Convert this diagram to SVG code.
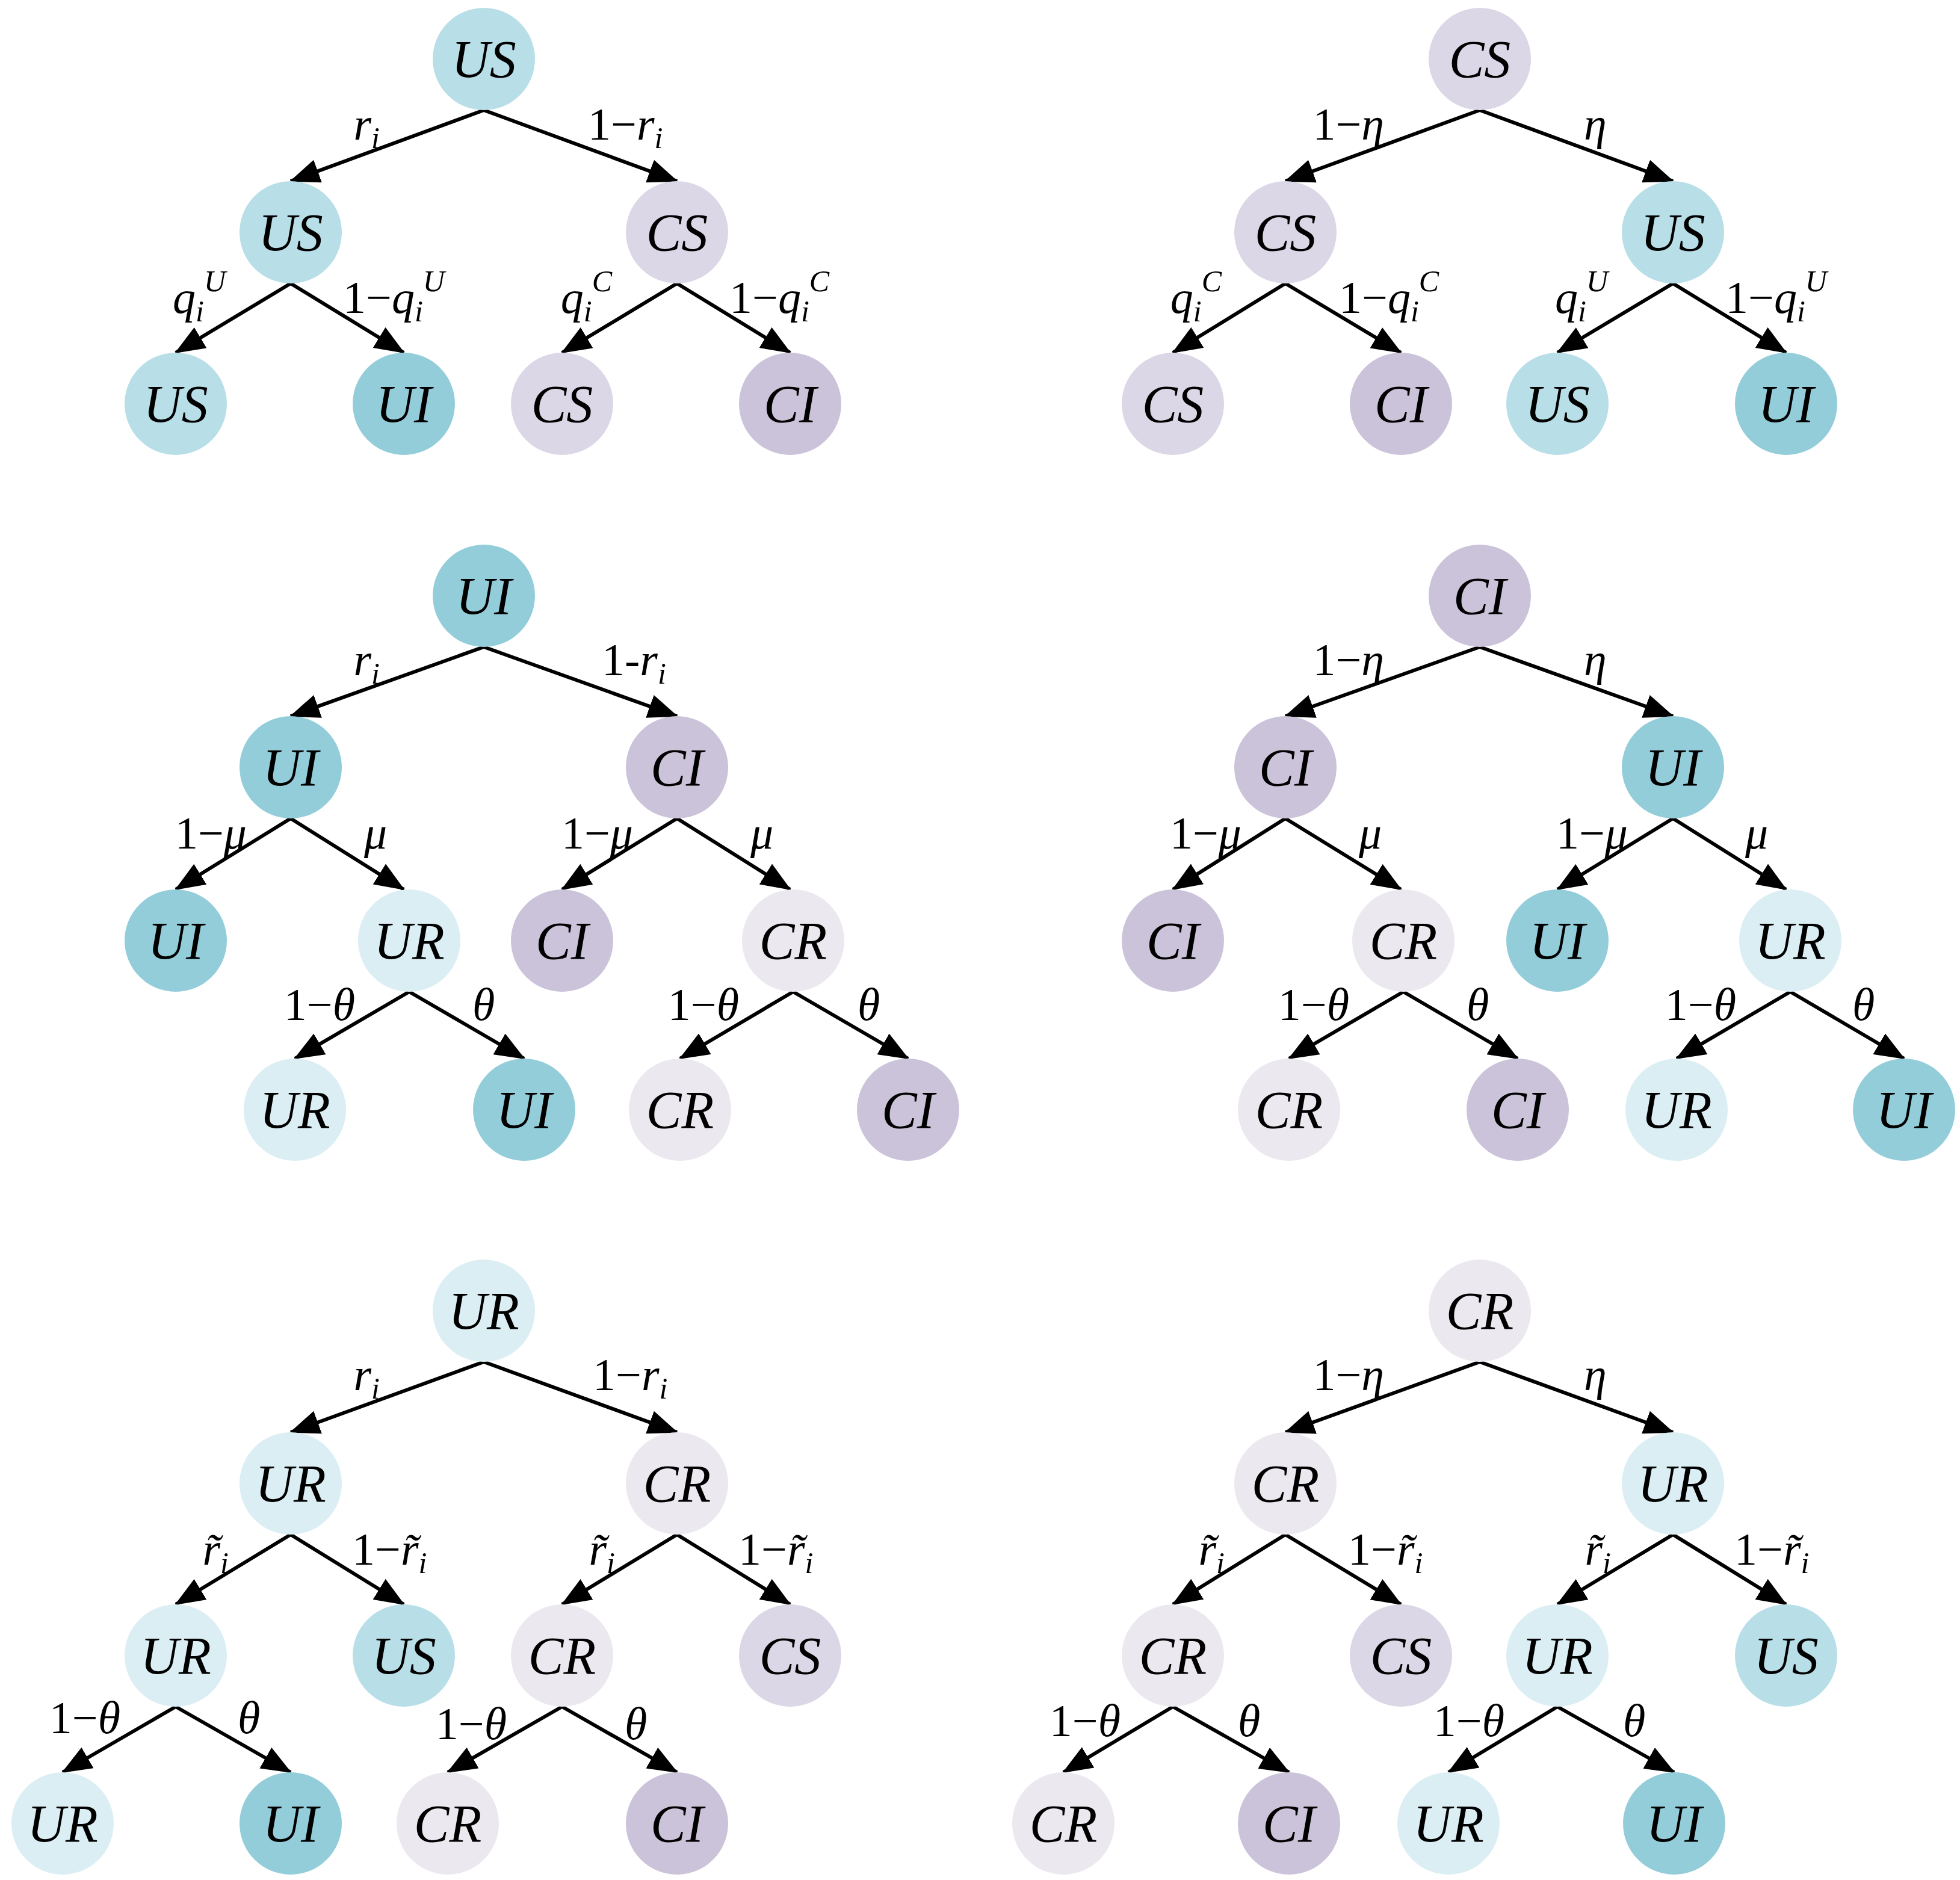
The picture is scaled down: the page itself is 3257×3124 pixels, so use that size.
<svg xmlns="http://www.w3.org/2000/svg" width="3257" height="3124" viewBox="0 0 3257 3124">
<style>
.n{stroke:none}
.US{fill:#b8dee8}.UI{fill:#94cdda}.UR{fill:#dbeef3}.CS{fill:#dcd7e6}.CI{fill:#cbc3da}.CR{fill:#ebe8f0}
.nt{font-family:"Liberation Serif",serif;font-style:italic;font-size:88px;text-anchor:middle;fill:#000}
.e{stroke:#000;stroke-width:6;fill:none;marker-end:url(#ah)}
.l{font-family:"Liberation Serif",serif;font-size:76px;fill:#000}
.L{text-anchor:end}.R{text-anchor:start}
.it{font-style:italic}
.sb{font-style:italic;font-size:50px}
</style>
<defs>
<marker id="ah" markerUnits="userSpaceOnUse" markerWidth="50" markerHeight="40" refX="48" refY="20" orient="auto"><path d="M0,0 L50,20 L0,40 Z" fill="#000"/></marker>
</defs>
<g id="connectors">
<!-- A -->
<line class="e" x1="804" y1="183" x2="483" y2="301"/><line class="e" x1="804" y1="183" x2="1125" y2="301"/>
<line class="e" x1="483" y1="471" x2="292" y2="586"/><line class="e" x1="483" y1="471" x2="671" y2="586"/>
<line class="e" x1="1125" y1="471" x2="934" y2="586"/><line class="e" x1="1125" y1="471" x2="1313" y2="586"/>
<!-- B -->
<line class="e" x1="2459" y1="183" x2="2136" y2="301"/><line class="e" x1="2459" y1="183" x2="2780" y2="301"/>
<line class="e" x1="2136" y1="471" x2="1949" y2="586"/><line class="e" x1="2136" y1="471" x2="2328" y2="586"/>
<line class="e" x1="2780" y1="471" x2="2588" y2="586"/><line class="e" x1="2780" y1="471" x2="2968" y2="586"/>
<!-- C -->
<line class="e" x1="804" y1="1075" x2="483" y2="1190"/><line class="e" x1="804" y1="1075" x2="1125" y2="1190"/>
<line class="e" x1="483" y1="1360" x2="292" y2="1478"/><line class="e" x1="483" y1="1360" x2="671" y2="1478"/>
<line class="e" x1="1125" y1="1360" x2="934" y2="1478"/><line class="e" x1="1125" y1="1360" x2="1313" y2="1478"/>
<line class="e" x1="680" y1="1648" x2="490" y2="1759"/><line class="e" x1="680" y1="1648" x2="871" y2="1759"/>
<line class="e" x1="1318" y1="1648" x2="1130" y2="1759"/><line class="e" x1="1318" y1="1648" x2="1509" y2="1759"/>
<!-- D -->
<line class="e" x1="2459" y1="1075" x2="2136" y2="1190"/><line class="e" x1="2459" y1="1075" x2="2780" y2="1190"/>
<line class="e" x1="2136" y1="1360" x2="1949" y2="1478"/><line class="e" x1="2136" y1="1360" x2="2328" y2="1478"/>
<line class="e" x1="2780" y1="1360" x2="2588" y2="1478"/><line class="e" x1="2780" y1="1360" x2="2968" y2="1478"/>
<line class="e" x1="2332" y1="1648" x2="2142" y2="1759"/><line class="e" x1="2332" y1="1648" x2="2522" y2="1759"/>
<line class="e" x1="2975" y1="1648" x2="2786" y2="1759"/><line class="e" x1="2975" y1="1648" x2="3164" y2="1759"/>
<!-- E -->
<line class="e" x1="804" y1="2263" x2="483" y2="2380"/><line class="e" x1="804" y1="2263" x2="1125" y2="2380"/>
<line class="e" x1="483" y1="2550" x2="292" y2="2666"/><line class="e" x1="483" y1="2550" x2="671" y2="2666"/>
<line class="e" x1="1125" y1="2550" x2="934" y2="2666"/><line class="e" x1="1125" y1="2550" x2="1313" y2="2666"/>
<line class="e" x1="292" y1="2836" x2="104" y2="2945"/><line class="e" x1="292" y1="2836" x2="483" y2="2945"/>
<line class="e" x1="934" y1="2836" x2="744" y2="2945"/><line class="e" x1="934" y1="2836" x2="1125" y2="2945"/>
<!-- F -->
<line class="e" x1="2459" y1="2263" x2="2136" y2="2380"/><line class="e" x1="2459" y1="2263" x2="2780" y2="2380"/>
<line class="e" x1="2136" y1="2550" x2="1949" y2="2666"/><line class="e" x1="2136" y1="2550" x2="2328" y2="2666"/>
<line class="e" x1="2780" y1="2550" x2="2588" y2="2666"/><line class="e" x1="2780" y1="2550" x2="2968" y2="2666"/>
<line class="e" x1="1949" y1="2836" x2="1767" y2="2945"/><line class="e" x1="1949" y1="2836" x2="2142" y2="2945"/>
<line class="e" x1="2588" y1="2836" x2="2407" y2="2945"/><line class="e" x1="2588" y1="2836" x2="2782" y2="2945"/>
</g>
<g id="labels">
<!-- A -->
<text class="l L" x="631" y="232"><tspan class="it">r</tspan><tspan class="sb" dy="14">i</tspan></text>
<text class="l R" x="977" y="232">1−<tspan class="it">r</tspan><tspan class="sb" dy="14">i</tspan></text>
<text class="l L" x="375" y="520"><tspan class="it">q</tspan><tspan class="sb" dy="14">i</tspan><tspan class="sb" dy="-50">U</tspan></text>
<text class="l R" x="570" y="520">1−<tspan class="it">q</tspan><tspan class="sb" dy="14">i</tspan><tspan class="sb" dy="-50">U</tspan></text>
<text class="l L" x="1017" y="520"><tspan class="it">q</tspan><tspan class="sb" dy="14">i</tspan><tspan class="sb" dy="-50">C</tspan></text>
<text class="l R" x="1212" y="520">1−<tspan class="it">q</tspan><tspan class="sb" dy="14">i</tspan><tspan class="sb" dy="-50">C</tspan></text>
<!-- B -->
<text class="l L" x="2300" y="232">1−<tspan class="it">η</tspan></text>
<text class="l R" x="2632" y="232"><tspan class="it">η</tspan></text>
<text class="l L" x="2030" y="520"><tspan class="it">q</tspan><tspan class="sb" dy="14">i</tspan><tspan class="sb" dy="-50">C</tspan></text>
<text class="l R" x="2225" y="520">1−<tspan class="it">q</tspan><tspan class="sb" dy="14">i</tspan><tspan class="sb" dy="-50">C</tspan></text>
<text class="l L" x="2672" y="520"><tspan class="it">q</tspan><tspan class="sb" dy="14">i</tspan><tspan class="sb" dy="-50">U</tspan></text>
<text class="l R" x="2867" y="520">1−<tspan class="it">q</tspan><tspan class="sb" dy="14">i</tspan><tspan class="sb" dy="-50">U</tspan></text>
<!-- C -->
<text class="l L" x="631" y="1122"><tspan class="it">r</tspan><tspan class="sb" dy="14">i</tspan></text>
<text class="l R" x="1000" y="1122">1-<tspan class="it">r</tspan><tspan class="sb" dy="14">i</tspan></text>
<text class="l L" x="410" y="1410">1−<tspan class="it">μ</tspan></text>
<text class="l R" x="605" y="1410"><tspan class="it">μ</tspan></text>
<text class="l L" x="1052" y="1410">1−<tspan class="it">μ</tspan></text>
<text class="l R" x="1247" y="1410"><tspan class="it">μ</tspan></text>
<text class="l L" x="590" y="1695">1−<tspan class="it">θ</tspan></text>
<text class="l R" x="785" y="1695"><tspan class="it">θ</tspan></text>
<text class="l L" x="1228" y="1695">1−<tspan class="it">θ</tspan></text>
<text class="l R" x="1425" y="1695"><tspan class="it">θ</tspan></text>
<!-- D -->
<text class="l L" x="2300" y="1122">1−<tspan class="it">η</tspan></text>
<text class="l R" x="2632" y="1122"><tspan class="it">η</tspan></text>
<text class="l L" x="2063" y="1410">1−<tspan class="it">μ</tspan></text>
<text class="l R" x="2258" y="1410"><tspan class="it">μ</tspan></text>
<text class="l L" x="2705" y="1410">1−<tspan class="it">μ</tspan></text>
<text class="l R" x="2900" y="1410"><tspan class="it">μ</tspan></text>
<text class="l L" x="2242" y="1695">1−<tspan class="it">θ</tspan></text>
<text class="l R" x="2437" y="1695"><tspan class="it">θ</tspan></text>
<text class="l L" x="2885" y="1695">1−<tspan class="it">θ</tspan></text>
<text class="l R" x="3078" y="1695"><tspan class="it">θ</tspan></text>
<!-- E -->
<text class="l L" x="631" y="2310"><tspan class="it">r</tspan><tspan class="sb" dy="14">i</tspan></text>
<text class="l R" x="985" y="2310">1−<tspan class="it">r</tspan><tspan class="sb" dy="14">i</tspan></text>
<text class="l L" x="380" y="2600"><tspan class="it">r̃</tspan><tspan class="sb" dy="14">i</tspan></text>
<text class="l R" x="585" y="2600">1−<tspan class="it">r̃</tspan><tspan class="sb" dy="14">i</tspan></text>
<text class="l L" x="1022" y="2600"><tspan class="it">r̃</tspan><tspan class="sb" dy="14">i</tspan></text>
<text class="l R" x="1227" y="2600">1−<tspan class="it">r̃</tspan><tspan class="sb" dy="14">i</tspan></text>
<text class="l L" x="200" y="2880">1−<tspan class="it">θ</tspan></text>
<text class="l R" x="395" y="2880"><tspan class="it">θ</tspan></text>
<text class="l L" x="842" y="2890">1−<tspan class="it">θ</tspan></text>
<text class="l R" x="1038" y="2890"><tspan class="it">θ</tspan></text>
<!-- F -->
<text class="l L" x="2300" y="2310">1−<tspan class="it">η</tspan></text>
<text class="l R" x="2632" y="2310"><tspan class="it">η</tspan></text>
<text class="l L" x="2035" y="2600"><tspan class="it">r̃</tspan><tspan class="sb" dy="14">i</tspan></text>
<text class="l R" x="2240" y="2600">1−<tspan class="it">r̃</tspan><tspan class="sb" dy="14">i</tspan></text>
<text class="l L" x="2677" y="2600"><tspan class="it">r̃</tspan><tspan class="sb" dy="14">i</tspan></text>
<text class="l R" x="2882" y="2600">1−<tspan class="it">r̃</tspan><tspan class="sb" dy="14">i</tspan></text>
<text class="l L" x="1862" y="2885">1−<tspan class="it">θ</tspan></text>
<text class="l R" x="2057" y="2885"><tspan class="it">θ</tspan></text>
<text class="l L" x="2500" y="2885">1−<tspan class="it">θ</tspan></text>
<text class="l R" x="2697" y="2885"><tspan class="it">θ</tspan></text>
</g>
<!-- Nodes A -->
<g id="a0"><circle class="n US" cx="804" cy="98" r="85"/><text class="nt" x="804" y="128">US</text></g>
<g id="a1"><circle class="n US" cx="483" cy="386" r="85"/><text class="nt" x="483" y="416">US</text></g>
<g id="a2"><circle class="n CS" cx="1125" cy="386" r="85"/><text class="nt" x="1125" y="416">CS</text></g>
<g id="a3"><circle class="n US" cx="292" cy="671" r="85"/><text class="nt" x="292" y="701">US</text></g>
<g id="a4"><circle class="n UI" cx="671" cy="671" r="85"/><text class="nt" x="671" y="701">UI</text></g>
<g id="a5"><circle class="n CS" cx="934" cy="671" r="85"/><text class="nt" x="934" y="701">CS</text></g>
<g id="a6"><circle class="n CI" cx="1313" cy="671" r="85"/><text class="nt" x="1313" y="701">CI</text></g>
<!-- B -->
<g id="b0"><circle class="n CS" cx="2459" cy="98" r="85"/><text class="nt" x="2459" y="128">CS</text></g>
<g id="b1"><circle class="n CS" cx="2136" cy="386" r="85"/><text class="nt" x="2136" y="416">CS</text></g>
<g id="b2"><circle class="n US" cx="2780" cy="386" r="85"/><text class="nt" x="2780" y="416">US</text></g>
<g id="b3"><circle class="n CS" cx="1949" cy="671" r="85"/><text class="nt" x="1949" y="701">CS</text></g>
<g id="b4"><circle class="n CI" cx="2328" cy="671" r="85"/><text class="nt" x="2328" y="701">CI</text></g>
<g id="b5"><circle class="n US" cx="2588" cy="671" r="85"/><text class="nt" x="2588" y="701">US</text></g>
<g id="b6"><circle class="n UI" cx="2968" cy="671" r="85"/><text class="nt" x="2968" y="701">UI</text></g>
<!-- C -->
<g id="c0"><circle class="n UI" cx="804" cy="990" r="85"/><text class="nt" x="804" y="1020">UI</text></g>
<g id="c1"><circle class="n UI" cx="483" cy="1275" r="85"/><text class="nt" x="483" y="1305">UI</text></g>
<g id="c2"><circle class="n CI" cx="1125" cy="1275" r="85"/><text class="nt" x="1125" y="1305">CI</text></g>
<g id="c3"><circle class="n UI" cx="292" cy="1563" r="85"/><text class="nt" x="292" y="1593">UI</text></g>
<g id="c4"><circle class="n UR" cx="680" cy="1563" r="85"/><text class="nt" x="680" y="1593">UR</text></g>
<g id="c5"><circle class="n CI" cx="934" cy="1563" r="85"/><text class="nt" x="934" y="1593">CI</text></g>
<g id="c6"><circle class="n CR" cx="1318" cy="1563" r="85"/><text class="nt" x="1318" y="1593">CR</text></g>
<g id="c7"><circle class="n UR" cx="490" cy="1844" r="85"/><text class="nt" x="490" y="1874">UR</text></g>
<g id="c8"><circle class="n UI" cx="871" cy="1844" r="85"/><text class="nt" x="871" y="1874">UI</text></g>
<g id="c9"><circle class="n CR" cx="1130" cy="1844" r="85"/><text class="nt" x="1130" y="1874">CR</text></g>
<g id="c10"><circle class="n CI" cx="1509" cy="1844" r="85"/><text class="nt" x="1509" y="1874">CI</text></g>
<!-- D -->
<g id="d0"><circle class="n CI" cx="2459" cy="990" r="85"/><text class="nt" x="2459" y="1020">CI</text></g>
<g id="d1"><circle class="n CI" cx="2136" cy="1275" r="85"/><text class="nt" x="2136" y="1305">CI</text></g>
<g id="d2"><circle class="n UI" cx="2780" cy="1275" r="85"/><text class="nt" x="2780" y="1305">UI</text></g>
<g id="d3"><circle class="n CI" cx="1949" cy="1563" r="85"/><text class="nt" x="1949" y="1593">CI</text></g>
<g id="d4"><circle class="n CR" cx="2332" cy="1563" r="85"/><text class="nt" x="2332" y="1593">CR</text></g>
<g id="d5"><circle class="n UI" cx="2588" cy="1563" r="85"/><text class="nt" x="2588" y="1593">UI</text></g>
<g id="d6"><circle class="n UR" cx="2975" cy="1563" r="85"/><text class="nt" x="2975" y="1593">UR</text></g>
<g id="d7"><circle class="n CR" cx="2142" cy="1844" r="85"/><text class="nt" x="2142" y="1874">CR</text></g>
<g id="d8"><circle class="n CI" cx="2522" cy="1844" r="85"/><text class="nt" x="2522" y="1874">CI</text></g>
<g id="d9"><circle class="n UR" cx="2786" cy="1844" r="85"/><text class="nt" x="2786" y="1874">UR</text></g>
<g id="d10"><circle class="n UI" cx="3164" cy="1844" r="85"/><text class="nt" x="3164" y="1874">UI</text></g>
<!-- E -->
<g id="e0"><circle class="n UR" cx="804" cy="2178" r="85"/><text class="nt" x="804" y="2208">UR</text></g>
<g id="e1"><circle class="n UR" cx="483" cy="2465" r="85"/><text class="nt" x="483" y="2495">UR</text></g>
<g id="e2"><circle class="n CR" cx="1125" cy="2465" r="85"/><text class="nt" x="1125" y="2495">CR</text></g>
<g id="e3"><circle class="n UR" cx="292" cy="2751" r="85"/><text class="nt" x="292" y="2781">UR</text></g>
<g id="e4"><circle class="n US" cx="671" cy="2751" r="85"/><text class="nt" x="671" y="2781">US</text></g>
<g id="e5"><circle class="n CR" cx="934" cy="2751" r="85"/><text class="nt" x="934" y="2781">CR</text></g>
<g id="e6"><circle class="n CS" cx="1313" cy="2751" r="85"/><text class="nt" x="1313" y="2781">CS</text></g>
<g id="e7"><circle class="n UR" cx="104" cy="3030" r="85"/><text class="nt" x="104" y="3060">UR</text></g>
<g id="e8"><circle class="n UI" cx="483" cy="3030" r="85"/><text class="nt" x="483" y="3060">UI</text></g>
<g id="e9"><circle class="n CR" cx="744" cy="3030" r="85"/><text class="nt" x="744" y="3060">CR</text></g>
<g id="e10"><circle class="n CI" cx="1125" cy="3030" r="85"/><text class="nt" x="1125" y="3060">CI</text></g>
<!-- F -->
<g id="f0"><circle class="n CR" cx="2459" cy="2178" r="85"/><text class="nt" x="2459" y="2208">CR</text></g>
<g id="f1"><circle class="n CR" cx="2136" cy="2465" r="85"/><text class="nt" x="2136" y="2495">CR</text></g>
<g id="f2"><circle class="n UR" cx="2780" cy="2465" r="85"/><text class="nt" x="2780" y="2495">UR</text></g>
<g id="f3"><circle class="n CR" cx="1949" cy="2751" r="85"/><text class="nt" x="1949" y="2781">CR</text></g>
<g id="f4"><circle class="n CS" cx="2328" cy="2751" r="85"/><text class="nt" x="2328" y="2781">CS</text></g>
<g id="f5"><circle class="n UR" cx="2588" cy="2751" r="85"/><text class="nt" x="2588" y="2781">UR</text></g>
<g id="f6"><circle class="n US" cx="2968" cy="2751" r="85"/><text class="nt" x="2968" y="2781">US</text></g>
<g id="f7"><circle class="n CR" cx="1767" cy="3030" r="85"/><text class="nt" x="1767" y="3060">CR</text></g>
<g id="f8"><circle class="n CI" cx="2142" cy="3030" r="85"/><text class="nt" x="2142" y="3060">CI</text></g>
<g id="f9"><circle class="n UR" cx="2407" cy="3030" r="85"/><text class="nt" x="2407" y="3060">UR</text></g>
<g id="f10"><circle class="n UI" cx="2782" cy="3030" r="85"/><text class="nt" x="2782" y="3060">UI</text></g>
</svg>
